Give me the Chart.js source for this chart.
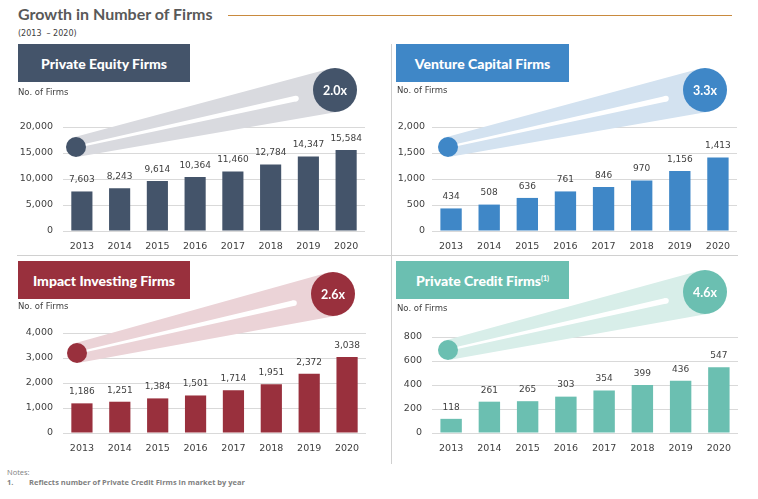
<!DOCTYPE html>
<html>
<head>
<meta charset="utf-8">
<script src="https://cdn.jsdelivr.net/npm/chart.js@4.4.1/dist/chart.umd.min.js"></script>
<style>
  body {
    margin: 0;
    width: 758px;
    height: 499px;
    position: relative;
    overflow: hidden;
    background: #fff;
    font-family: "DejaVu Sans", sans-serif;
    color: #404040;
  }
  .abs { position: absolute; }
  #title { left: 18px; top: 4px; font: 700 16px Lato, sans-serif; color: #595959; white-space: nowrap; }
  #title-rule { left: 228px; top: 15px; width: 504px; height: 1px; background: #c98a3e; }
  #subtitle { left: 18px; top: 29px; font: 8px "DejaVu Sans", sans-serif; color: #404040; }
  .box {
    display: flex; align-items: center; justify-content: center;
    color: #fff; font: 900 14px Lato, sans-serif; white-space: nowrap;
  }
  .box sup { font-size: 7px; position: relative; top: -2px; vertical-align: top; }
  .unit { font: 8.5px "DejaVu Sans", sans-serif; color: #404040; }
  .rule { background: #d0d0d0; }
  canvas { position: absolute; }
  #notes { left: 7px; top: 467px; font: 7.5px "Open Sans", sans-serif; color: #7f7f7f; line-height: 10px; white-space: nowrap; }
  #notes b { font-weight: 700; }
</style>
</head>
<body>
<div id="title" class="abs">Growth in Number of Firms</div>
<div id="title-rule" class="abs"></div>
<div id="subtitle" class="abs">(2013 &nbsp;– 2020)</div>

<div class="abs rule" style="left:391px; top:44px; width:1px; height:420px;"></div>
<div class="abs rule" style="left:17px; top:255px; width:721px; height:1px;"></div>

<canvas id="pe-chart"></canvas>
<canvas id="vc-chart"></canvas>
<canvas id="impact-chart"></canvas>
<canvas id="credit-chart"></canvas>

<div class="abs box" style="left:18px; top:44px; width:172px; height:38px; background:#44546a;">Private Equity Firms</div>
<div class="abs box" style="left:396px; top:44px; width:173px; height:38px; background:#3f87c7;">Venture Capital Firms</div>
<div class="abs box" style="left:18px; top:261px; width:172px; height:38px; background:#99303d;">Impact Investing Firms</div>
<div class="abs box" style="left:396px; top:261px; width:173px; height:38px; background:#6bbfb1;">Private Credit Firms<sup>(1)</sup></div>

<div class="abs unit" style="left:18px; top:87px;">No. of Firms</div>
<div class="abs unit" style="left:397px; top:85px;">No. of Firms</div>
<div class="abs unit" style="left:18px; top:301px;">No. of Firms</div>
<div class="abs unit" style="left:397px; top:303px;">No. of Firms</div>

<div id="notes" class="abs">Notes:<br><b>1.&nbsp;&nbsp;&nbsp;&nbsp;&nbsp;&nbsp;&nbsp;&nbsp;Reflects number of Private Credit Firms in market by year</b></div>

<script>
// values
const years = ["2013", "2014", "2015", "2016", "2017", "2018", "2019", "2020"];
const peFirms = [7603, 8243, 9614, 10364, 11460, 12784, 14347, 15584];
const vcFirms = [434, 508, 636, 761, 846, 970, 1156, 1413];
const impactFirms = [1186, 1251, 1384, 1501, 1714, 1951, 2372, 3038];
const creditFirms = [118, 261, 265, 303, 354, 399, 436, 547];
const growthLabels = ["2.0x", "3.3x", "2.6x", "4.6x"];
const axisMax = [20000, 2000, 4000, 800];
const axisStep = [5000, 500, 1000, 200];

const X_AXIS_HEIGHT = 22;
const TEXT_COLOR = "#404040";

// box = canvas [left, top, width, height], area = plot [left, right, top, bottom] in page px
const panels = [
  { id: "pe-chart", color: "#44546a", cone: "#d9dadf", box: [0, 46, 385, 210], area: [63, 365, 127, 231], tickPad: 10, small: [13, 20], big: [-30, -37] },
  { id: "vc-chart", color: "#3f87c7", cone: "#d3e2f0", box: [392, 46, 366, 210], area: [432, 737, 127, 231], tickPad: 7, small: [16, 20], big: [-32, -37] },
  { id: "impact-chart", color: "#99303d", cone: "#ebd3d7", box: [0, 256, 385, 205], area: [63, 366, 333, 433], tickPad: 10, small: [14, 20], big: [-33, -39] },
  { id: "credit-chart", color: "#6bbfb1", cone: "#d8eee9", box: [392, 256, 366, 205], area: [432, 738, 337, 433], tickPad: 10, small: [16, 13], big: [-33, -45] },
];

const growthBubble = {
  id: "growthBubble",
  beforeDatasetsDraw(chart, args, opts) {
    const { ctx, chartArea } = chart;
    const sx = chartArea.left + opts.small[0];
    const sy = chartArea.top + opts.small[1];
    const bx = chartArea.right + opts.big[0];
    const by = chartArea.top + opts.big[1];
    const sr = 10;
    const br = 22;
    const len = Math.hypot(bx - sx, by - sy);
    const dx = (bx - sx) / len;
    const dy = (by - sy) / len;
    const nx = -dy;
    const ny = dx;

    ctx.save();
    // cone
    ctx.fillStyle = opts.cone;
    ctx.beginPath();
    ctx.moveTo(sx + nx * sr, sy + ny * sr);
    ctx.lineTo(bx + nx * br, by + ny * br);
    ctx.lineTo(bx - nx * br, by - ny * br);
    ctx.lineTo(sx - nx * sr, sy - ny * sr);
    ctx.closePath();
    ctx.fill();

    // white highlight, thin at the left
    const ex = bx - dx * (br + 18);
    const ey = by - dy * (br + 18);
    ctx.fillStyle = "#ffffff";
    ctx.beginPath();
    ctx.moveTo(sx + nx * 1, sy + ny * 1);
    ctx.lineTo(ex + nx * 2.8, ey + ny * 2.8);
    ctx.lineTo(ex - nx * 2.8, ey - ny * 2.8);
    ctx.lineTo(sx - nx * 1, sy - ny * 1);
    ctx.closePath();
    ctx.fill();
    ctx.beginPath();
    ctx.arc(ex, ey, 2.8, 0, Math.PI * 2);
    ctx.fill();

    // circles
    ctx.fillStyle = opts.color;
    ctx.beginPath();
    ctx.arc(sx, sy, sr, 0, Math.PI * 2);
    ctx.fill();
    ctx.beginPath();
    ctx.arc(bx, by, br, 0, Math.PI * 2);
    ctx.fill();

    ctx.fillStyle = "#ffffff";
    ctx.font = "700 12.5px Lato, sans-serif";
    ctx.textAlign = "center";
    ctx.textBaseline = "middle";
    ctx.fillText(opts.text, bx, by + 0.5);
    ctx.restore();
  },
};

const barValues = {
  id: "barValues",
  afterDatasetsDraw(chart) {
    const { ctx } = chart;
    const meta = chart.getDatasetMeta(0);
    const values = chart.data.datasets[0].data;
    ctx.save();
    ctx.fillStyle = TEXT_COLOR;
    ctx.font = "9px 'DejaVu Sans', sans-serif";
    ctx.textAlign = "center";
    ctx.textBaseline = "bottom";
    meta.data.forEach((bar, i) => {
      ctx.fillText(values[i].toLocaleString("en-US"), bar.x, bar.y - 7);
    });
    ctx.restore();
  },
};

function buildChart(panel, values, maxValue, stepValue, growthLabel) {
  const canvas = document.getElementById(panel.id);
  const [left, top, width, height] = panel.box;
  canvas.width = width;
  canvas.height = height;
  canvas.style.left = left + "px";
  canvas.style.top = top + "px";

  const yWidth = panel.area[0] - left;
  const padding = {
    left: 0,
    top: panel.area[2] - top,
    right: left + width - panel.area[1],
    bottom: top + height - panel.area[3] - X_AXIS_HEIGHT,
  };

  return new Chart(canvas, {
    type: "bar",
    data: {
      labels: years,
      datasets: [
        {
          data: values,
          backgroundColor: panel.color,
          barPercentage: 0.56,
          categoryPercentage: 1,
        },
      ],
    },
    options: {
      responsive: false,
      animation: false,
      layout: { padding: padding },
      plugins: {
        legend: { display: false },
        tooltip: { enabled: false },
        growthBubble: {
          small: panel.small,
          big: panel.big,
          color: panel.color,
          cone: panel.cone,
          text: growthLabel,
        },
      },
      scales: {
        x: {
          grid: { display: false, drawTicks: false },
          border: { display: false },
          ticks: {
            color: TEXT_COLOR,
            padding: 10,
            maxRotation: 0,
            font: { family: "DejaVu Sans", size: 9.5 },
          },
          afterFit: (scale) => {
            scale.height = X_AXIS_HEIGHT;
          },
        },
        y: {
          min: 0,
          max: maxValue,
          border: { display: false },
          grid: { color: "#d9d9d9", drawTicks: false },
          ticks: {
            stepSize: stepValue,
            padding: panel.tickPad,
            color: TEXT_COLOR,
            font: { family: "DejaVu Sans", size: 9.5 },
            callback: (v) => v.toLocaleString("en-US"),
          },
          afterFit: (scale) => {
            scale.width = yWidth;
          },
        },
      },
    },
    plugins: [growthBubble, barValues],
  });
}

buildChart(panels[0], peFirms, axisMax[0], axisStep[0], growthLabels[0]);
buildChart(panels[1], vcFirms, axisMax[1], axisStep[1], growthLabels[1]);
buildChart(panels[2], impactFirms, axisMax[2], axisStep[2], growthLabels[2]);
buildChart(panels[3], creditFirms, axisMax[3], axisStep[3], growthLabels[3]);
</script>
</body>
</html>
